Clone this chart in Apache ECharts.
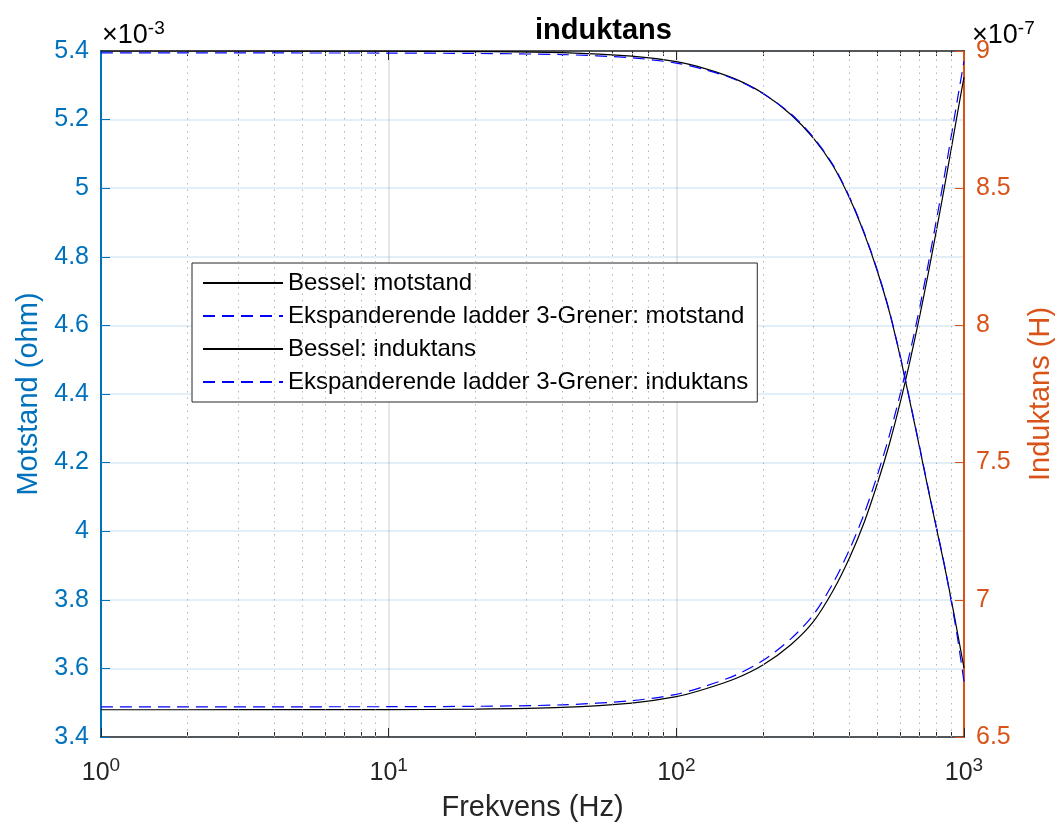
<!DOCTYPE html>
<html>
<head>
<meta charset="utf-8">
<script src="https://cdn.jsdelivr.net/npm/echarts@6/dist/echarts.min.js"></script>
<style>
  html, body { margin: 0; padding: 0; background: #ffffff; }
  #chart { width: 1063px; height: 827px; }
</style>
</head>
<body>
<div id="chart"></div>
<script>
// Frequency samples (Hz)
const frekvens = [1, 2, 5, 10, 20, 40, 70, 100, 125, 160, 200, 250, 300, 350, 400, 450,
                  500, 550, 600, 650, 700, 750, 800, 850, 900, 950, 1000];

// Resistance, in units of 1e-3 ohm
const motstandBessel = [3.4795, 3.4795, 3.4796, 3.4798, 3.4810, 3.4862, 3.4990, 3.5175,
                        3.5393, 3.5698, 3.6100, 3.6691, 3.7372, 3.8256, 3.9227, 4.0263,
                        4.1390, 4.2535, 4.3747, 4.4991, 4.6236, 4.7490, 4.8725, 4.9912,
                        5.1078, 5.2206, 5.3240];
const motstandLadder = [3.4880, 3.4880, 3.4881, 3.4883, 3.4895, 3.4937, 3.5060, 3.5245,
                        3.5473, 3.5798, 3.6230, 3.6861, 3.7572, 3.8476, 3.9467, 4.0513,
                        4.1640, 4.2785, 4.3997, 4.5241, 4.6486, 4.7760, 4.9025, 5.0242,
                        5.1448, 5.2616, 5.3700];

// Inductance, in units of 1e-7 H
const induktansBessel = [9.0000, 9.0000, 8.9998, 8.9995, 8.9980, 8.9940, 8.9810, 8.9610,
                         8.9369, 8.8983, 8.8458, 8.7684, 8.6815, 8.5829, 8.4644, 8.3345,
                         8.1972, 8.0500, 7.8859, 7.7175, 7.5569, 7.4055, 7.2667, 7.1369,
                         7.0080, 6.8779, 6.7515];
const induktansLadder = [8.9930, 8.9930, 8.9928, 8.9925, 8.9910, 8.9870, 8.9750, 8.9560,
                         8.9329, 8.8963, 8.8448, 8.7714, 8.6845, 8.5859, 8.4674, 8.3375,
                         8.2002, 8.0530, 7.8889, 7.7205, 7.5599, 7.4085, 7.2697, 7.1399,
                         7.0030, 6.8599, 6.7015];

// Axis ranges and tick steps
const motstandRange = [3.4, 5.4], motstandStep = 0.2;
const induktansRange = [6.5, 9.0], induktansStep = 0.5;
const frekvensRange = [1, 1000];
const majorInner = [10, 100];
const minorFreqs = [2, 3, 4, 5, 6, 7, 8, 9, 20, 30, 40, 50, 60, 70, 80, 90,
                    200, 300, 400, 500, 600, 700, 800, 900];

const seriesNames = [
  'Bessel: motstand',
  'Ekspanderende ladder 3-Grener: motstand',
  'Bessel: induktans',
  'Ekspanderende ladder 3-Grener: induktans'
];

const FONT = '"Liberation Sans", Arial, Helvetica, sans-serif';
const BLUE = '#0072BD';
const ORANGE = '#D95319';
const DARK = '#262626';

const pairs = (ys) => frekvens.map((f, i) => [f, ys[i]]);
const fmtNum = (v) => String(parseFloat(v.toFixed(3)));
const log10 = (v) => Math.log10(v);

// helper axes in decade units for tick marks placed at arbitrary frequencies
function tickAxis(position, values, len, showLine) {
  return {
    type: 'value', position: position, min: 0, max: log10(frekvensRange[1]),
    gridIndex: 0,
    axisLine: { show: !!showLine, onZero: false, lineStyle: { color: DARK, width: 1.5 } },
    axisLabel: { show: false },
    splitLine: { show: false },
    axisTick: {
      show: true, inside: true, length: len,
      customValues: values.map(log10),
      lineStyle: { color: DARK, width: 1 }
    }
  };
}

function curve(name, values, yIndex, color, dashed, z) {
  return {
    name: name, type: 'line', xAxisIndex: 0, yAxisIndex: yIndex,
    data: pairs(values), smooth: 0.3, symbol: 'none', showSymbol: false,
    lineStyle: { color: color, width: 1.2, type: dashed ? [12, 7] : 'solid' },
    itemStyle: { color: color },
    z: z
  };
}

const chart = echarts.init(document.getElementById('chart'), null, { renderer: 'canvas' });

const series = [
  curve(seriesNames[0], motstandBessel, 0, '#000000', false, 3),
  curve(seriesNames[1], motstandLadder, 0, '#0000FF', true, 4),
  curve(seriesNames[2], induktansBessel, 1, '#000000', false, 3),
  curve(seriesNames[3], induktansLadder, 1, '#0000FF', true, 4)
];
// dotted minor grid at 2..9 of every decade
series[0].markLine = {
  silent: true, symbol: 'none', animation: false,
  label: { show: false },
  lineStyle: { color: '#b4b4b4', width: 1, type: [1.5, 5] },
  data: minorFreqs.map((f) => ({ xAxis: f }))
};

chart.setOption({
  animation: false,
  backgroundColor: '#ffffff',
  textStyle: { fontFamily: FONT },
  grid: { left: 101, right: 94, top: 51, bottom: 90, containLabel: false },
  graphic: [
    {
      type: 'text', left: 535, top: 16,
      style: {
        text: 'induktans', fill: '#000000', font: 'bold 29px ' + FONT,
        textAlign: 'center'
      }
    },
    {
      type: 'text', left: 102, top: 19,
      style: {
        text: '{a|×10}{s|-3}',
        rich: {
          a: { fontSize: 27, fontFamily: FONT, color: BLUE },
          s: { fontSize: 19, fontFamily: FONT, color: BLUE, padding: [0, 0, 15, 0] }
        }
      }
    },
    {
      type: 'text', left: 972, top: 19,
      style: {
        text: '{a|×10}{s|-7}',
        rich: {
          a: { fontSize: 27, fontFamily: FONT, color: ORANGE },
          s: { fontSize: 19, fontFamily: FONT, color: ORANGE, padding: [0, 0, 15, 0] }
        }
      }
    }
  ],
  legend: {
    data: seriesNames,
    orient: 'vertical',
    left: 192, top: 263,
    itemWidth: 80, itemHeight: 14, itemGap: 9,
    padding: [8, 9, 8, 10],
    backgroundColor: '#ffffff',
    borderColor: DARK, borderWidth: 1, borderRadius: 0,
    itemStyle: { opacity: 0, borderWidth: 0 },
    textStyle: { fontSize: 24, fontFamily: FONT, color: '#000000', lineHeight: 24 },
    selectedMode: false
  },
  xAxis: [
    {
      type: 'log', logBase: 10, min: frekvensRange[0], max: frekvensRange[1],
      position: 'bottom',
      name: 'Frekvens (Hz)', nameLocation: 'middle', nameGap: 56,
      nameTextStyle: { fontSize: 29, color: DARK, fontFamily: FONT },
      axisLine: { show: true, onZero: false, lineStyle: { color: DARK, width: 1.5 } },
      axisTick: { show: true, inside: true, length: 9, lineStyle: { color: DARK } },
      axisLabel: {
        margin: 19,
        formatter: (v) => '{b|10}{s|' + Math.round(log10(v)) + '}',
        rich: {
          b: { fontSize: 25, fontFamily: FONT, color: DARK },
          s: { fontSize: 19, fontFamily: FONT, color: DARK, padding: [0, 0, 15, 0] }
        }
      },
      splitLine: { show: true, lineStyle: { color: 'rgba(38,38,38,0.15)', width: 1.5 } }
    },
    tickAxis('bottom', minorFreqs, 5, false),
    tickAxis('top', majorInner, 9, true),
    tickAxis('top', minorFreqs, 5, false)
  ],
  yAxis: [
    {
      type: 'value', position: 'left',
      min: motstandRange[0], max: motstandRange[1], interval: motstandStep,
      name: 'Motstand (ohm)', nameLocation: 'middle', nameGap: 54,
      nameTextStyle: { fontSize: 29, color: BLUE, fontFamily: FONT },
      axisLine: { show: true, onZero: false, lineStyle: { color: BLUE, width: 2 } },
      axisTick: { show: true, inside: true, length: 9, lineStyle: { color: BLUE } },
      axisLabel: { fontSize: 25, color: BLUE, margin: 12, formatter: fmtNum },
      splitLine: { show: true, lineStyle: { color: 'rgba(0,114,189,0.15)', width: 1.5 } }
    },
    {
      type: 'value', position: 'right',
      min: induktansRange[0], max: induktansRange[1], interval: induktansStep,
      name: 'Induktans (H)', nameLocation: 'middle', nameGap: 62,
      nameTextStyle: { fontSize: 29, color: ORANGE, fontFamily: FONT },
      axisLine: { show: true, onZero: false, lineStyle: { color: ORANGE, width: 2 } },
      axisTick: { show: true, inside: true, length: 9, lineStyle: { color: ORANGE } },
      axisLabel: { fontSize: 25, color: ORANGE, margin: 12, formatter: fmtNum },
      splitLine: { show: false }
    }
  ],
  series: series
});
</script>
</body>
</html>
